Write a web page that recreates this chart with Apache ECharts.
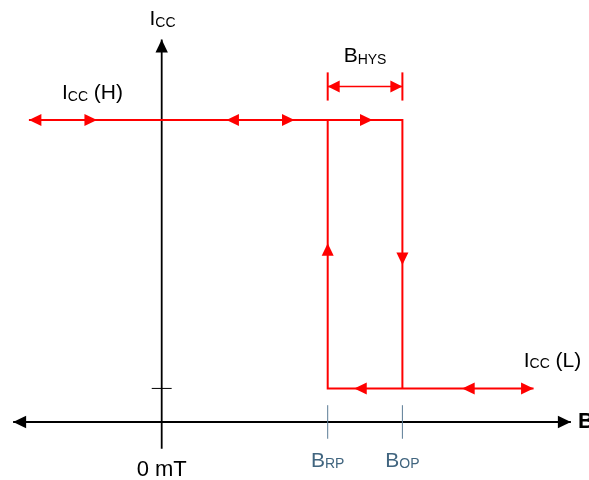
<!DOCTYPE html>
<html>
<head>
<meta charset="utf-8">
<script src="https://cdn.jsdelivr.net/npm/echarts@6/dist/echarts.min.js"></script>
<style>
  html, body { margin: 0; padding: 0; background: #fff; }
  #chart-panel { width: 589px; height: 480px; }
</style>
</head>
<body>
<div id="chart-panel"></div>
<script>
// switching points (mT) and supply current levels
const bRP = 10
const bOP = 14.5
const iccH = 9
const iccL = 1
// how far the two current levels are swept
const highFrom = -8
const lowTo = 22.4
// axis extents
const bAxisEnds = [-8.95, 24.65]
const iAxisEnds = [-0.8, 11.4]
// B_HYS dimension
const hysLevel = 10
const hysTick = 0.42
// arrow heads on the sweep: [B, Icc, direction in deg]
const flowArrows = [
  [highFrom, iccH, 180],
  [-3.9, iccH, 0],
  [3.9, iccH, 180],
  [8, iccH, 0],
  [12.7, iccH, 0],
  [11.6, iccL, 180],
  [18.1, iccL, 180],
  [lowTo, iccL, 0],
  [bRP, 5.33, 90],
  [bOP, 4.68, 270]
]
// labels and where they sit: [B, Icc]
const labelTexts = [
  "{m|I}{s|CC}",
  "{m|I}{s|CC}{m| (H)}",
  "{m|B}{s|HYS}",
  "{m|I}{s|CC}{m| (L)}",
  "{mb|B}{sb|RP}",
  "{mb|B}{sb|OP}",
  "{z|0 mT}"
]
const labelAt = [
  [0.05, 12.0],
  [-4.17, 9.8],
  [(bRP + bOP) / 2, 10.9],
  [23.54, 1.82],
  [bRP, -1.16],
  [bOP, -1.16],
  [0, -1.43]
]
const axisName = "B"
const axisNameAt = [25.08, 0]

const RED = "#ff0000"
const FONT = "'Liberation Sans', Arial, sans-serif"

const chart = echarts.init(document.getElementById("chart-panel"), null, { renderer: "canvas" })

// straight piece between two data points
const segment = (color, width) => (params, api) => {
  const a = api.coord([api.value(0), api.value(1)])
  const b = api.coord([api.value(2), api.value(3)])
  return {
    type: "line",
    shape: { x1: a[0], y1: a[1], x2: b[0], y2: b[1] },
    style: { stroke: color, lineWidth: width, fill: null }
  }
}
// filled arrow head, tip on the data point
const arrowHead = (color, len, half) => (params, api) => {
  const tip = api.coord([api.value(0), api.value(1)])
  const ang = (api.value(2) * Math.PI) / 180
  const dx = Math.cos(ang)
  const dy = -Math.sin(ang)
  const bx = tip[0] - dx * len
  const by = tip[1] - dy * len
  return {
    type: "polygon",
    shape: {
      points: [
        [tip[0], tip[1]],
        [bx - dy * half, by + dx * half],
        [bx + dy * half, by - dx * half]
      ]
    },
    style: { fill: color }
  }
}
const rich = {
  m: { fontSize: 21, fontFamily: FONT, fill: "#000", verticalAlign: "bottom" },
  s: { fontSize: 14, fontFamily: FONT, fill: "#000", verticalAlign: "bottom" },
  mb: { fontSize: 21, fontFamily: FONT, fill: "#41657f", verticalAlign: "bottom" },
  sb: { fontSize: 14, fontFamily: FONT, fill: "#41657f", verticalAlign: "bottom" },
  z: { fontSize: 22, fontFamily: FONT, fill: "#000" },
  b: { fontSize: 22, fontFamily: FONT, fontWeight: "bold", fill: "#000" }
}
const textItem = (texts, align) => (params, api) => {
  const p = api.coord([api.value(0), api.value(1)])
  return {
    type: "text",
    x: p[0],
    y: p[1],
    style: {
      text: texts[params.dataIndex],
      rich: rich,
      align: align,
      verticalAlign: "middle",
      fontFamily: FONT,
      fontSize: 21,
      fill: "#000"
    }
  }
}

const custom = (data, renderItem, z) => ({
  type: "custom",
  renderItem: renderItem,
  data: data,
  clip: false,
  silent: true,
  z: z
})

const options = {
  animation: false,
  backgroundColor: "#fff",
  grid: { left: 12.3, right: 12.3, top: 2.6, bottom: 7.7 },
  xAxis: { type: "value", min: -9, max: 25, show: false },
  yAxis: { type: "value", min: -1.5, max: 12.5, show: false },
  series: [
    // axes
    custom(
      [
        [bAxisEnds[0], 0, bAxisEnds[1], 0],
        [0, iAxisEnds[0], 0, iAxisEnds[1]]
      ],
      segment("#000", 1.8),
      2
    ),
    custom(
      [
        [bAxisEnds[0], 0, 180],
        [bAxisEnds[1], 0, 0],
        [0, iAxisEnds[1], 90]
      ],
      arrowHead("#000", 13, 6.2),
      3
    ),
    // ticks
    custom([[-0.6, iccL, 0.6, iccL]], segment("#000", 1), 2),
    custom(
      [
        [bRP, -0.5, bRP, 0.5],
        [bOP, -0.5, bOP, 0.5]
      ],
      segment("#5b7c95", 1),
      2
    ),
    // hysteresis loop: high level falling at B_OP
    {
      type: "line",
      data: [
        [highFrom, iccH],
        [bOP, iccH],
        [bOP, iccL]
      ],
      symbol: "none",
      lineStyle: { color: RED, width: 2, join: "miter" },
      z: 4
    },
    // low level rising at B_RP
    {
      type: "line",
      data: [
        [bRP, iccH],
        [bRP, iccL],
        [lowTo, iccL]
      ],
      symbol: "none",
      lineStyle: { color: RED, width: 2, join: "miter" },
      z: 4
    },
    custom(flowArrows, arrowHead(RED, 12.5, 6), 5),
    // B_HYS dimension
    custom(
      [
        [bRP, hysLevel - hysTick, bRP, hysLevel + hysTick],
        [bOP, hysLevel - hysTick, bOP, hysLevel + hysTick]
      ],
      segment(RED, 2),
      4
    ),
    custom([[bRP, hysLevel, bOP, hysLevel]], segment(RED, 1.4), 4),
    custom(
      [
        [bRP, hysLevel, 180],
        [bOP, hysLevel, 0]
      ],
      arrowHead(RED, 12, 6),
      5
    ),
    // text
    custom(labelAt, textItem(labelTexts, "center"), 6),
    custom([axisNameAt], textItem(["{b|" + axisName + "}"], "left"), 6)
  ]
}
chart.setOption(options)
window.addEventListener("resize", () => chart.resize())
</script>
</body>
</html>
